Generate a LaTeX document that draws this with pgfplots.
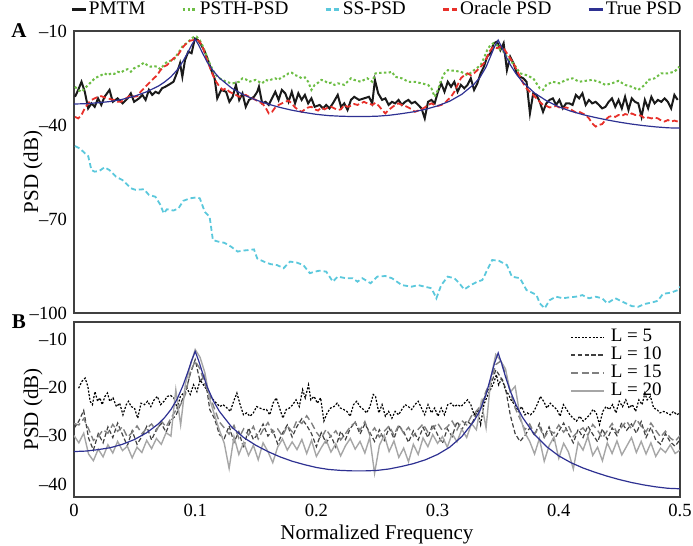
\documentclass[border=0pt]{standalone}
\usepackage{fontspec}
\setmainfont{Liberation Serif}
\usepackage{pgfplots}
\pgfplotsset{compat=1.18}
\usepackage{pgfplotstable}

\definecolor{pmtmcol}{HTML}{1A1A1A}
\definecolor{psthcol}{HTML}{6DBE45}
\definecolor{sscol}{HTML}{5BC8DC}
\definecolor{oraclecol}{HTML}{E8302A}
\definecolor{truecol}{HTML}{2E3192}

% true PSD, shared by both panels
\pgfplotstableread{
f db
0.000 -33.3
0.010 -33.2
0.020 -32.9
0.030 -32.5
0.040 -31.8
0.050 -30.8
0.060 -29.4
0.070 -27.5
0.075 -26.2
0.080 -24.6
0.085 -22.5
0.090 -19.6
0.094 -16.8
0.097 -14.5
0.100 -12.6
0.103 -14.6
0.106 -17.0
0.110 -20.0
0.115 -22.8
0.120 -25.0
0.130 -28.2
0.140 -30.4
0.150 -32.0
0.160 -33.3
0.170 -34.4
0.180 -35.3
0.190 -36.0
0.200 -36.6
0.210 -37.0
0.220 -37.2
0.230 -37.3
0.240 -37.3
0.250 -37.2
0.260 -36.9
0.270 -36.4
0.280 -35.8
0.290 -35.0
0.300 -33.9
0.310 -32.4
0.320 -30.2
0.330 -27.0
0.335 -24.8
0.340 -21.5
0.344 -17.8
0.347 -15.0
0.350 -12.9
0.353 -15.2
0.356 -17.8
0.360 -20.8
0.365 -23.8
0.370 -26.2
0.380 -29.8
0.390 -32.3
0.400 -34.2
0.410 -35.6
0.420 -36.7
0.430 -37.6
0.440 -38.4
0.450 -39.1
0.460 -39.7
0.470 -40.2
0.480 -40.6
0.490 -40.9
0.500 -41.0
}\truepsd

% panel B, L = 10, 15, 20
\pgfplotstableread{
f l10 l15 l20
0.000 -28.5 -27.5 -30.0
0.004 -27.0 -27.8 -31.5
0.008 -24.8 -26.5 -29.5
0.012 -30.5 -28.6 -33.8
0.016 -33.0 -31.0 -35.2
0.020 -29.6 -30.2 -32.8
0.024 -31.5 -28.8 -34.4
0.028 -28.2 -29.5 -31.9
0.032 -30.4 -27.7 -33.6
0.036 -27.4 -29.1 -31.2
0.040 -29.8 -28.2 -33.1
0.044 -32.1 -30.3 -32.2
0.048 -29.0 -29.4 -34.6
0.052 -31.8 -28.0 -32.4
0.056 -30.2 -29.6 -33.5
0.060 -28.1 -28.5 -31.0
0.064 -30.9 -27.6 -32.7
0.068 -28.7 -29.0 -30.6
0.072 -27.5 -27.0 -31.8
0.076 -29.3 -28.2 -29.4
0.080 -26.8 -26.4 -30.1
0.084 -25.9 -24.8 -20.5
0.088 -23.4 -23.6 -27.8
0.092 -21.0 -21.4 -19.2
0.096 -17.2 -16.8 -15.5
0.100 -14.3 -14.6 -12.2
0.104 -18.8 -16.2 -13.8
0.108 -17.5 -19.4 -17.0
0.112 -24.6 -21.8 -22.5
0.116 -26.5 -24.5 -25.8
0.120 -29.8 -27.2 -28.9
0.124 -30.6 -28.4 -31.6
0.128 -28.0 -29.7 -36.8
0.132 -31.4 -27.9 -30.2
0.136 -29.2 -30.5 -33.9
0.140 -32.6 -28.6 -31.4
0.144 -28.4 -29.9 -34.1
0.148 -30.8 -28.1 -32.0
0.152 -29.6 -30.7 -35.0
0.156 -27.6 -28.8 -31.5
0.160 -30.1 -27.3 -33.3
0.164 -28.9 -29.4 -35.6
0.168 -31.7 -28.6 -32.4
0.172 -29.5 -30.1 -30.7
0.176 -27.8 -28.0 -33.0
0.180 -30.3 -29.2 -31.3
0.184 -28.1 -26.8 -32.9
0.188 -26.5 -27.5 -30.8
0.192 -27.9 -25.9 -33.7
0.196 -29.6 -27.4 -31.0
0.200 -32.3 -29.3 -34.3
0.204 -29.4 -30.6 -32.5
0.208 -31.5 -28.7 -30.9
0.212 -30.0 -30.2 -33.4
0.216 -32.4 -29.0 -31.7
0.220 -29.1 -30.9 -34.2
0.224 -30.8 -29.6 -32.1
0.228 -28.5 -28.1 -30.6
0.232 -27.2 -27.3 -32.8
0.236 -29.7 -28.9 -31.2
0.240 -27.6 -27.1 -33.6
0.244 -29.3 -29.8 -30.4
0.248 -31.2 -28.4 -37.8
0.252 -28.8 -30.3 -32.0
0.256 -31.0 -29.1 -29.9
0.260 -28.4 -28.0 -33.3
0.264 -30.6 -29.9 -31.1
0.268 -27.9 -27.8 -34.5
0.272 -29.2 -29.5 -32.6
0.276 -31.4 -28.3 -35.4
0.280 -29.0 -30.1 -31.8
0.284 -30.9 -28.7 -33.9
0.288 -28.3 -27.6 -30.5
0.292 -30.4 -29.3 -32.3
0.296 -27.7 -28.5 -29.8
0.300 -29.8 -27.4 -31.6
0.304 -31.6 -29.0 -30.2
0.308 -28.6 -28.2 -32.4
0.312 -30.2 -27.0 -29.6
0.316 -27.1 -28.8 -31.3
0.320 -28.8 -26.9 -28.7
0.324 -26.9 -27.8 -30.4
0.328 -27.8 -25.9 -27.5
0.332 -25.4 -25.0 -28.8
0.336 -24.2 -23.6 -23.0
0.340 -21.3 -20.8 -28.4
0.344 -19.5 -18.6 -18.0
0.348 -16.4 -15.3 -13.2
0.352 -17.9 -14.6 -14.5
0.356 -20.1 -17.2 -16.2
0.360 -25.8 -20.9 -21.0
0.364 -29.6 -24.3 -19.8
0.368 -31.2 -26.5 -26.0
0.372 -30.0 -28.8 -29.4
0.376 -28.4 -27.6 -31.2
0.380 -29.9 -29.7 -33.8
0.384 -27.5 -28.2 -30.6
0.388 -30.3 -30.4 -35.3
0.392 -28.2 -28.9 -32.1
0.396 -31.0 -29.5 -30.3
0.400 -29.1 -27.8 -34.7
0.404 -27.4 -29.3 -31.6
0.408 -29.6 -28.0 -33.4
0.412 -31.5 -30.2 -36.9
0.416 -28.7 -29.1 -31.4
0.420 -30.4 -28.4 -33.0
0.424 -28.0 -29.9 -30.2
0.428 -29.7 -27.7 -34.1
0.432 -31.3 -28.9 -32.4
0.436 -28.6 -30.5 -35.2
0.440 -30.8 -29.0 -31.5
0.444 -28.4 -27.5 -33.7
0.448 -30.0 -29.4 -31.1
0.452 -27.3 -28.2 -34.0
0.456 -28.9 -27.0 -32.2
0.460 -27.6 -28.6 -30.4
0.464 -29.5 -26.6 -33.5
0.468 -27.1 -28.1 -31.2
0.472 -30.4 -29.2 -33.8
0.476 -28.3 -27.4 -31.5
0.480 -30.9 -28.9 -34.3
0.484 -31.8 -30.3 -32.6
0.488 -29.6 -29.1 -33.5
0.492 -31.3 -30.5 -31.9
0.496 -32.2 -31.2 -33.7
0.500 -30.8 -30.0 -33.0
}\lgroups

\pgfplotsset{
  psdaxis/.style={
    scale only axis, width=303pt,
    xmin=0, xmax=0.5,
    axis line style={black!75, line width=0.6pt},
    major tick length=0pt,
    tick label style={font=\fontsize{9.3}{10}\selectfont},
    label style={font=\fontsize{10.5}{12}\selectfont},
    ylabel style={at={(axis description cs:-0.0677,0.5)}, anchor=center},
    xlabel style={yshift=2.5pt},
    /pgf/number format/assume math mode=true,
  },
}

\begin{document}
\begin{tikzpicture}

% ---------------- panel A ----------------
\begin{axis}[psdaxis,
  name=pa, at={(0,92pt)}, anchor=south west,
  height=141pt,
  ymin=-100, ymax=-10,
  ytick={-100,-70,-40,-10},
  yticklabels={{--100},{--70},{--40},{--10}},
  xtick={0,0.1,0.2,0.3,0.4,0.5}, xticklabels={},
  ylabel={PSD (dB)},
  legend columns=5,
  legend style={at={(0.5,1)}, anchor=south, yshift=3.5pt, draw=none, fill=none,
    font=\fontsize{9.6}{10}\selectfont,
    /tikz/every even column/.append style={column sep=17pt},
    nodes={inner xsep=1pt, inner ysep=1pt}},
  legend image code/.code={\draw[#1, line width=1.2pt] (0pt,0pt) -- (7pt,0pt);},
]
\addplot[pmtmcol, line width=1pt] coordinates {
(0.0008,-31.0) (0.0035,-28.8) (0.0062,-26.2) (0.0089,-29.4) (0.0117,-34.7)
(0.0144,-33.1) (0.0171,-34.2) (0.0198,-31.5) (0.0225,-33.6) (0.0252,-31.0)
(0.0293,-28.8) (0.0320,-32.6) (0.0360,-31.5) (0.0401,-33.1) (0.0442,-31.5)
(0.0469,-29.9) (0.0496,-32.6) (0.0537,-31.5) (0.0564,-30.4) (0.0591,-32.0)
(0.0618,-28.8) (0.0645,-30.4) (0.0672,-29.4) (0.0699,-29.9) (0.0726,-28.3)
(0.0753,-27.8) (0.0780,-27.2) (0.0821,-26.2) (0.0848,-23.5) (0.0875,-20.3)
(0.0894,-24.6) (0.0916,-19.3) (0.0943,-16.6) (0.0970,-17.1) (0.0997,-12.4)
(0.1024,-12.9) (0.1051,-14.5) (0.1079,-16.6) (0.1106,-19.3) (0.1133,-22.5)
(0.1160,-25.1) (0.1182,-31.5) (0.1214,-28.8) (0.1255,-29.4) (0.1282,-32.6)
(0.1309,-31.0) (0.1336,-27.2) (0.1363,-32.0) (0.1390,-29.9) (0.1417,-34.2)
(0.1444,-32.0) (0.1485,-31.0) (0.1512,-29.4) (0.1526,-27.8) (0.1553,-33.1)
(0.1580,-32.6) (0.1607,-33.6) (0.1634,-31.5) (0.1661,-29.4) (0.1688,-32.0)
(0.1715,-28.8) (0.1743,-29.9) (0.1770,-32.6) (0.1797,-29.4) (0.1824,-33.1)
(0.1851,-29.9) (0.1878,-32.0) (0.1905,-30.4) (0.1932,-33.1) (0.1959,-31.5)
(0.1986,-34.2) (0.2027,-33.6) (0.2054,-34.7) (0.2081,-33.6) (0.2108,-34.7)
(0.2136,-33.1) (0.2176,-30.4) (0.2203,-34.2) (0.2230,-33.1) (0.2257,-35.2)
(0.2285,-32.0) (0.2312,-31.0) (0.2352,-32.0) (0.2393,-31.5)
(0.2434,-31.0) (0.2461,-33.1) (0.2483,-25.6) (0.2510,-29.9) (0.2542,-32.0)
(0.2569,-31.5) (0.2596,-33.6) (0.2623,-32.6) (0.2650,-33.1) (0.2678,-32.0)
(0.2705,-33.6) (0.2732,-32.6) (0.2759,-32.0) (0.2786,-33.1) (0.2813,-32.6)
(0.2840,-33.6) (0.2867,-34.7) (0.2894,-37.9) (0.2921,-32.6) (0.2949,-32.0)
(0.2976,-33.1) (0.3003,-29.4) (0.3030,-26.7) (0.3057,-29.4) (0.3084,-26.2)
(0.3111,-27.8) (0.3138,-26.2) (0.3165,-29.4) (0.3192,-27.2) (0.3220,-28.3)
(0.3247,-27.2) (0.3274,-25.1) (0.3301,-28.8) (0.3328,-26.7) (0.3355,-23.5)
(0.3382,-21.4) (0.3409,-18.2) (0.3436,-17.1) (0.3463,-13.9) (0.3491,-13.4)
(0.3518,-16.1) (0.3545,-13.9) (0.3572,-22.5) (0.3599,-18.2) (0.3626,-20.3)
(0.3653,-23.5) (0.3680,-24.6) (0.3707,-25.1) (0.3734,-26.2) (0.3762,-36.3)
(0.3789,-29.9) (0.3816,-30.4) (0.3843,-32.6) (0.3870,-35.8) (0.3897,-33.1)
(0.3924,-32.0) (0.3951,-31.5) (0.3978,-33.6) (0.4005,-32.0) (0.4033,-34.7)
(0.4060,-33.1) (0.4087,-33.1) (0.4114,-33.6) (0.4141,-30.4) (0.4168,-31.5)
(0.4195,-29.9) (0.4222,-33.6) (0.4249,-32.0) (0.4276,-33.1) (0.4304,-32.6)
(0.4331,-33.6) (0.4358,-34.7) (0.4385,-34.2) (0.4412,-32.6) (0.4439,-31.5)
(0.4466,-34.2) (0.4493,-32.0) (0.4520,-34.7) (0.4547,-31.0) (0.4575,-35.2)
(0.4602,-31.5) (0.4629,-32.6) (0.4656,-33.1) (0.4683,-37.4) (0.4710,-32.0)
(0.4737,-34.7) (0.4764,-31.0) (0.4791,-33.1) (0.4818,-32.0) (0.4846,-32.6)
(0.4873,-31.5) (0.4900,-32.6) (0.4927,-34.7) (0.4954,-30.4) (0.4981,-32.0)
};
\addlegendentry{PMTM}
\addplot[psthcol, line width=1pt, dash pattern=on 1.2pt off 1.2pt] coordinates {
(0.0008,-27.8) (0.0035,-28.8) (0.0062,-29.4) (0.0089,-28.3) (0.0117,-27.2)
(0.0144,-26.2) (0.0171,-25.1) (0.0198,-24.6) (0.0225,-24.1) (0.0252,-23.5)
(0.0279,-24.1) (0.0306,-23.5) (0.0333,-23.7) (0.0360,-23.0) (0.0388,-23.3)
(0.0415,-22.5) (0.0442,-22.2) (0.0469,-23.0) (0.0496,-21.9) (0.0523,-21.4)
(0.0550,-20.9) (0.0577,-20.1) (0.0604,-20.9) (0.0631,-21.4) (0.0659,-21.2)
(0.0686,-21.4) (0.0713,-22.2) (0.0740,-20.9) (0.0767,-19.8) (0.0794,-19.5)
(0.0821,-19.3) (0.0848,-17.7) (0.0875,-16.1) (0.0902,-14.5) (0.0930,-13.9)
(0.0957,-12.9) (0.0984,-12.0) (0.1011,-11.8) (0.1038,-12.9) (0.1065,-15.0)
(0.1092,-17.7) (0.1119,-20.3) (0.1146,-22.5) (0.1173,-24.1) (0.1201,-25.1)
(0.1228,-25.6) (0.1255,-26.2) (0.1282,-26.5) (0.1309,-26.7) (0.1336,-26.5)
(0.1363,-26.2) (0.1390,-25.1) (0.1417,-25.4) (0.1444,-26.2) (0.1472,-25.9)
(0.1499,-25.6) (0.1526,-26.2) (0.1553,-26.7) (0.1580,-25.6) (0.1607,-25.9)
(0.1634,-25.4) (0.1661,-25.1) (0.1688,-25.6) (0.1715,-24.6) (0.1743,-24.4)
(0.1770,-23.5) (0.1797,-23.3) (0.1824,-24.1) (0.1851,-24.4) (0.1878,-25.1)
(0.1905,-24.8) (0.1932,-26.2) (0.1959,-28.8) (0.1986,-27.2) (0.2014,-26.5)
(0.2041,-25.6) (0.2068,-25.9) (0.2095,-26.7) (0.2122,-26.5) (0.2149,-27.2)
(0.2176,-26.7) (0.2203,-26.9) (0.2230,-27.2) (0.2257,-26.2) (0.2285,-25.1)
(0.2312,-25.6) (0.2339,-25.9) (0.2366,-26.2) (0.2393,-25.6) (0.2420,-25.1)
(0.2461,-26.2) (0.2488,-23.5) (0.2542,-23.3) (0.2596,-23.3) (0.2623,-23.0)
(0.2650,-24.6) (0.2705,-25.1) (0.2759,-26.2) (0.2813,-26.2) (0.2867,-26.7)
(0.2921,-27.2) (0.2949,-28.3) (0.2976,-31.0) (0.3003,-28.8) (0.3030,-25.6)
(0.3057,-23.5) (0.3084,-22.5) (0.3138,-22.7) (0.3192,-23.0) (0.3247,-24.1)
(0.3301,-22.5) (0.3355,-20.9) (0.3382,-18.7) (0.3409,-16.1) (0.3436,-14.5)
(0.3463,-13.9) (0.3491,-14.5) (0.3518,-16.1) (0.3545,-16.6) (0.3572,-18.2)
(0.3599,-19.8) (0.3626,-20.3) (0.3653,-21.9) (0.3680,-23.5) (0.3734,-24.1)
(0.3789,-25.1) (0.3816,-26.7) (0.3843,-28.3) (0.3870,-28.8) (0.3897,-27.2)
(0.3951,-26.2) (0.4005,-26.7) (0.4060,-25.6) (0.4114,-25.1) (0.4168,-26.2)
(0.4222,-25.9) (0.4276,-25.6) (0.4331,-26.2) (0.4385,-27.2) (0.4439,-26.7)
(0.4493,-25.9) (0.4547,-27.2) (0.4602,-27.8) (0.4656,-28.8) (0.4710,-27.2)
(0.4737,-25.6) (0.4791,-25.1) (0.4846,-23.5) (0.4900,-23.5) (0.4954,-23.0)
(0.4995,-21.4)
};
\addlegendentry{PSTH-PSD}
\addplot[sscol, line width=0.9pt, dash pattern=on 2.5pt off 1.5pt] coordinates {
(0.0008,-46.7) (0.0049,-47.5) (0.0089,-49.0) (0.0117,-49.9) (0.0144,-54.4)
(0.0171,-54.9) (0.0211,-54.6) (0.0252,-53.5) (0.0293,-54.4) (0.0347,-56.5)
(0.0401,-57.6) (0.0428,-58.6) (0.0469,-60.2) (0.0509,-60.7) (0.0577,-60.5)
(0.0618,-62.3) (0.0672,-62.9) (0.0713,-65.5) (0.0740,-68.2) (0.0767,-66.9)
(0.0821,-67.3) (0.0862,-66.6) (0.0902,-64.2) (0.0957,-63.4) (0.1011,-63.1)
(0.1038,-63.4) (0.1079,-67.7) (0.1119,-69.3) (0.1146,-76.7) (0.1187,-77.2)
(0.1241,-77.6) (0.1295,-78.8) (0.1350,-80.4) (0.1390,-80.1) (0.1444,-79.9)
(0.1485,-79.7) (0.1512,-82.6) (0.1566,-83.6) (0.1621,-84.4) (0.1675,-84.7)
(0.1729,-85.7) (0.1783,-83.6) (0.1837,-83.9) (0.1892,-84.7) (0.1946,-87.3)
(0.1986,-86.8) (0.2027,-86.5) (0.2081,-86.8) (0.2136,-90.0) (0.2176,-88.4)
(0.2244,-88.9) (0.2298,-88.9) (0.2339,-90.0) (0.2379,-88.9) (0.2447,-90.5)
(0.2502,-88.4) (0.2569,-88.2) (0.2623,-88.9) (0.2664,-90.0) (0.2705,-91.1)
(0.2786,-91.6) (0.2840,-91.1) (0.2894,-91.6) (0.2949,-92.1) (0.2990,-95.3)
(0.3030,-91.1) (0.3084,-88.4) (0.3138,-88.9) (0.3179,-90.5) (0.3220,-92.5)
(0.3274,-91.1) (0.3328,-90.0) (0.3369,-89.5) (0.3409,-86.3) (0.3450,-83.1)
(0.3504,-83.3) (0.3572,-84.7) (0.3613,-88.4) (0.3680,-88.9) (0.3734,-92.7)
(0.3789,-93.7) (0.3816,-94.3) (0.3843,-96.9) (0.3884,-98.5) (0.3924,-95.9)
(0.3978,-94.8) (0.4033,-95.3) (0.4087,-95.0) (0.4141,-94.8) (0.4195,-94.3)
(0.4249,-95.3) (0.4304,-94.8) (0.4358,-95.3) (0.4399,-96.9) (0.4466,-95.3)
(0.4520,-96.3) (0.4602,-97.8) (0.4656,-98.0) (0.4710,-97.1) (0.4764,-96.7)
(0.4818,-96.1) (0.4859,-93.9) (0.4927,-93.5) (0.4981,-92.7) (0.5000,-91.6)
};
\addlegendentry{SS-PSD}
\addplot[oraclecol, line width=0.9pt, dash pattern=on 3pt off 1.5pt] coordinates {
(0.0008,-37.4) (0.0035,-37.9) (0.0062,-36.8) (0.0089,-34.7) (0.0117,-33.1)
(0.0144,-32.0) (0.0171,-31.5) (0.0198,-31.0) (0.0225,-30.8) (0.0252,-31.2)
(0.0279,-31.5) (0.0306,-31.8) (0.0333,-32.0) (0.0360,-32.6) (0.0388,-32.6)
(0.0415,-31.8) (0.0442,-31.2) (0.0469,-30.4) (0.0496,-31.0) (0.0523,-30.8)
(0.0550,-29.4) (0.0577,-28.3) (0.0604,-27.2) (0.0631,-26.2) (0.0659,-25.1)
(0.0686,-24.1) (0.0713,-22.5) (0.0740,-21.4) (0.0767,-20.9) (0.0794,-19.8)
(0.0821,-18.7) (0.0848,-18.2) (0.0875,-16.6) (0.0902,-15.0) (0.0930,-13.9)
(0.0957,-13.1) (0.0984,-12.9) (0.1011,-12.7) (0.1038,-13.4) (0.1065,-15.5)
(0.1092,-18.7) (0.1119,-21.4) (0.1146,-24.1) (0.1173,-26.2) (0.1201,-27.8)
(0.1228,-28.8) (0.1255,-28.3) (0.1282,-29.4) (0.1309,-29.9) (0.1336,-30.4)
(0.1363,-31.0) (0.1390,-30.8) (0.1417,-30.4) (0.1444,-31.0) (0.1472,-31.5)
(0.1499,-32.0) (0.1526,-32.6) (0.1553,-33.1) (0.1580,-34.4) (0.1607,-36.3)
(0.1634,-35.8) (0.1661,-34.4) (0.1688,-33.6) (0.1715,-33.1) (0.1743,-32.6)
(0.1770,-32.2) (0.1797,-33.1) (0.1824,-34.4) (0.1851,-35.2) (0.1878,-35.8)
(0.1905,-35.0) (0.1932,-34.4) (0.1959,-34.2) (0.1986,-35.0) (0.2014,-35.4)
(0.2041,-34.4) (0.2068,-35.0) (0.2095,-34.4) (0.2122,-34.2) (0.2149,-34.7)
(0.2176,-35.2) (0.2203,-35.0) (0.2230,-33.6) (0.2257,-34.2) (0.2285,-33.9)
(0.2312,-33.3) (0.2339,-33.6) (0.2366,-33.1) (0.2393,-32.6) (0.2420,-33.1)
(0.2434,-33.1) (0.2461,-33.6) (0.2488,-32.9) (0.2515,-33.9) (0.2542,-35.2)
(0.2569,-36.3) (0.2596,-35.2) (0.2623,-34.4) (0.2650,-33.6) (0.2678,-33.1)
(0.2705,-33.6) (0.2732,-33.9) (0.2759,-34.4) (0.2786,-35.0) (0.2813,-35.8)
(0.2840,-35.4) (0.2867,-35.0) (0.2894,-34.4) (0.2921,-33.6) (0.2949,-33.1)
(0.2976,-33.6) (0.3003,-33.9) (0.3030,-33.6) (0.3057,-33.1) (0.3084,-32.0)
(0.3111,-31.0) (0.3138,-29.4) (0.3165,-27.2) (0.3192,-25.1) (0.3220,-24.1)
(0.3247,-23.5) (0.3274,-24.1) (0.3301,-23.5) (0.3328,-22.5) (0.3355,-21.4)
(0.3382,-20.3) (0.3409,-18.2) (0.3436,-16.1) (0.3463,-15.0) (0.3491,-15.5)
(0.3518,-15.0) (0.3545,-15.5) (0.3572,-17.1) (0.3599,-18.7) (0.3626,-20.3)
(0.3653,-22.5) (0.3680,-24.6) (0.3707,-26.7) (0.3734,-28.3) (0.3762,-29.4)
(0.3789,-30.4) (0.3816,-31.5) (0.3843,-32.6) (0.3870,-33.6) (0.3897,-33.9)
(0.3924,-34.4) (0.3951,-34.2) (0.3978,-33.9) (0.4005,-34.4) (0.4033,-34.7)
(0.4060,-34.4) (0.4087,-34.7) (0.4114,-35.4) (0.4141,-36.0) (0.4168,-35.8)
(0.4195,-36.3) (0.4222,-36.8) (0.4249,-37.9) (0.4276,-39.5) (0.4304,-40.5)
(0.4331,-40.0) (0.4358,-39.7) (0.4385,-38.4) (0.4412,-37.4) (0.4439,-37.1)
(0.4466,-37.4) (0.4493,-36.8) (0.4520,-37.1) (0.4547,-36.5) (0.4575,-36.8)
(0.4602,-36.3) (0.4629,-36.8) (0.4656,-36.8) (0.4683,-37.1) (0.4710,-37.9)
(0.4737,-37.6) (0.4764,-37.9) (0.4791,-37.6) (0.4818,-37.9) (0.4846,-38.6)
(0.4873,-38.9) (0.4900,-38.4) (0.4927,-38.9) (0.4954,-38.6) (0.4981,-38.9)
};
\addlegendentry{Oracle PSD}
\addplot[truecol, line width=0.6pt] table[x=f, y=db] {\truepsd};
\addlegendentry{True PSD}
\end{axis}

% ---------------- panel B ----------------
\begin{axis}[psdaxis,
  name=pb, at={(0,0)}, anchor=south west,
  height=87.5pt,
  ymin=-42.7, ymax=-6.5,
  ytick={-40,-30,-20,-10},
  yticklabels={{--40},{--30},{--20},{--10}},
  xtick={0,0.1,0.2,0.3,0.4,0.5},
  xlabel={Normalized Frequency},
  ylabel={PSD (dB)},
  legend cell align=left,
  legend style={at={(1,1)}, anchor=north east, xshift=-3pt, yshift=-1.5pt,
    draw=none, fill=none,
    font=\fontsize{9.5}{9.5}\selectfont, row sep=1.2pt,
    nodes={inner xsep=3pt, inner ysep=0pt}},
  legend image code/.code={\draw[#1] (0pt,0pt) -- (16.5pt,0pt);},
]
\addplot[black, line width=0.6pt, dash pattern=on 1pt off 0.8pt] coordinates {
(0.0038,-20.2) (0.0065,-18.8) (0.0092,-18.1) (0.0114,-19.8) (0.0133,-22.9)
(0.0152,-23.6) (0.0173,-20.9) (0.0195,-22.9) (0.0214,-22.2) (0.0233,-23.6)
(0.0255,-21.9) (0.0276,-21.2) (0.0295,-22.9) (0.0322,-22.2) (0.0350,-24.0)
(0.0377,-23.3) (0.0404,-25.7) (0.0431,-23.6) (0.0450,-22.9) (0.0472,-24.0)
(0.0499,-24.3) (0.0526,-26.4) (0.0553,-23.3) (0.0580,-23.6) (0.0607,-22.9)
(0.0634,-24.0) (0.0661,-22.6) (0.0688,-21.9) (0.0715,-23.6) (0.0743,-22.9)
(0.0770,-21.9) (0.0797,-21.7) (0.0824,-22.2) (0.0851,-24.3) (0.0878,-21.9)
(0.0905,-21.2) (0.0932,-20.2) (0.0959,-21.5) (0.0986,-19.5) (0.1014,-20.9)
(0.1041,-18.5) (0.1068,-19.5) (0.1095,-20.5) (0.1122,-21.9) (0.1149,-22.6)
(0.1176,-23.3) (0.1203,-24.0) (0.1230,-23.6) (0.1263,-24.3) (0.1290,-25.0)
(0.1317,-22.9) (0.1344,-21.2) (0.1371,-23.6) (0.1398,-25.7) (0.1425,-25.3)
(0.1453,-26.0) (0.1480,-25.3) (0.1507,-24.0) (0.1534,-24.3) (0.1561,-24.6)
(0.1588,-24.6) (0.1615,-25.7) (0.1642,-23.3) (0.1669,-22.2) (0.1696,-24.3)
(0.1724,-26.4) (0.1751,-24.6) (0.1778,-24.3) (0.1805,-23.6) (0.1832,-22.6)
(0.1859,-24.0) (0.1886,-20.5) (0.1908,-22.2) (0.1935,-19.5) (0.1954,-22.6)
(0.1981,-21.9) (0.2008,-23.3) (0.2035,-22.2) (0.2062,-27.0) (0.2089,-25.3)
(0.2117,-24.3) (0.2144,-24.0) (0.2171,-23.3) (0.2198,-24.3) (0.2225,-24.6)
(0.2252,-25.0) (0.2279,-26.0) (0.2306,-23.6) (0.2333,-22.9) (0.2360,-24.0)
(0.2388,-24.6) (0.2415,-25.3) (0.2442,-24.0) (0.2469,-21.5) (0.2488,-21.9)
(0.2515,-25.3) (0.2542,-23.6) (0.2569,-26.0) (0.2596,-25.0) (0.2623,-26.4)
(0.2650,-25.0) (0.2678,-25.7) (0.2705,-24.6) (0.2732,-23.6) (0.2759,-24.0)
(0.2786,-24.6) (0.2813,-23.6) (0.2840,-22.9) (0.2867,-24.3) (0.2894,-25.7)
(0.2921,-23.6) (0.2949,-25.3) (0.2976,-24.3) (0.3003,-26.0) (0.3030,-24.3)
(0.3057,-25.7) (0.3084,-23.6) (0.3111,-23.3) (0.3138,-24.0) (0.3165,-23.6)
(0.3192,-24.0) (0.3220,-23.3) (0.3247,-22.6) (0.3274,-23.6) (0.3301,-25.7)
(0.3328,-24.6) (0.3355,-27.7) (0.3382,-23.6) (0.3409,-21.9) (0.3436,-20.5)
(0.3463,-19.1) (0.3485,-17.4) (0.3504,-19.5) (0.3531,-18.1) (0.3558,-20.5)
(0.3585,-21.5) (0.3612,-22.9) (0.3640,-23.6) (0.3667,-25.0) (0.3694,-24.0)
(0.3721,-25.7) (0.3740,-25.3) (0.3767,-25.7) (0.3794,-25.0) (0.3821,-23.6)
(0.3848,-21.9) (0.3875,-22.9) (0.3902,-24.3) (0.3930,-23.3) (0.3957,-24.0)
(0.3984,-24.6) (0.4011,-26.0) (0.4038,-23.6) (0.4065,-24.6) (0.4092,-25.7)
(0.4119,-26.4) (0.4146,-27.0) (0.4173,-26.0) (0.4201,-27.0) (0.4228,-26.4)
(0.4255,-25.7) (0.4282,-24.6) (0.4309,-25.3) (0.4336,-27.7) (0.4363,-25.0)
(0.4390,-24.0) (0.4417,-24.6) (0.4444,-23.6) (0.4472,-25.3) (0.4499,-22.9)
(0.4526,-24.0) (0.4553,-22.6) (0.4580,-24.3) (0.4607,-23.6) (0.4634,-25.0)
(0.4661,-22.6) (0.4688,-23.6) (0.4710,-21.2) (0.4729,-22.6) (0.4756,-21.9)
(0.4783,-24.3) (0.4810,-24.6) (0.4835,-25.3) (0.4864,-25.0) (0.4892,-25.3)
(0.4919,-25.7) (0.4946,-25.0) (0.4973,-25.7) (0.5000,-25.3)
};
\addlegendentry{L = 5}
\addplot[black!75, line width=0.6pt, dash pattern=on 2.2pt off 1.2pt] table[x=f, y=l10] {\lgroups};
\addlegendentry{L = 10}
\addplot[black!50, line width=0.7pt, dash pattern=on 3.5pt off 1.8pt] table[x=f, y=l15] {\lgroups};
\addlegendentry{L = 15}
\addplot[black!35, line width=0.7pt] table[x=f, y=l20] {\lgroups};
\addlegendentry{L = 20}
\addplot[truecol, line width=0.6pt, forget plot] table[x=f, y=db] {\truepsd};
\end{axis}

% panel letters
\node[font=\bfseries\fontsize{10.5}{12}\selectfont] at ([xshift=-27.5pt]pa.north west) {A};
\node[font=\bfseries\fontsize{10.5}{12}\selectfont] at ([xshift=-27.5pt]pb.north west) {B};

\pgfresetboundingbox
\path[use as bounding box] (-37pt,-24.5pt) rectangle (309.5pt,248.5pt);
\end{tikzpicture}
\end{document}
